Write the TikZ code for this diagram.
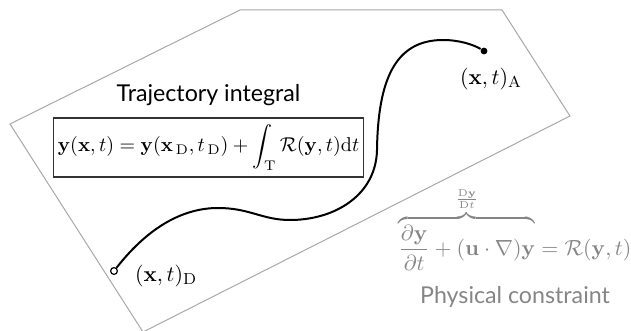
\documentclass[tikz,border=0pt]{standalone}
\usepackage{amsmath}
\usepackage{amssymb}
\usepackage[no-math]{fontspec}
\newfontfamily\labelfont{Lato}
\usepackage{tikz}
\usetikzlibrary{positioning}
\definecolor{planeGrey}{HTML}{A8A8A8}
\definecolor{lawGrey}{HTML}{858585}

\begin{document}
\begin{tikzpicture}[
  x=0.5pt, y=-0.5pt, node distance=3pt,
  plane/.style={draw=planeGrey, line width=0.5pt},
  eqbox/.style={draw=black!80, line width=0.6pt, inner sep=2pt,
                minimum width=149.5pt, minimum height=29.5pt},
  caption/.style={font=\labelfont\fontsize{11.6}{13}\selectfont},
  traj/.style={line width=1pt, black},
  endpt/.style={circle, inner sep=0pt, minimum size=3.4pt, line width=0.6pt},
  mathlbl/.style={font=\fontsize{11}{13}\selectfont},
]
\useasboundingbox (0,0) rectangle (631,331);
% plane of the domain
\draw[plane] (10,124) -- (240,10) -- (502,10) -- (570,116) -- (143,332) -- cycle;

% trajectory integral
\node[eqbox] (integral) at (208.5,147.5)
  {$\displaystyle \mathbf{y}(\mathbf{x},t)=\mathbf{y}(\mathbf{x}_{\,\mathrm{D}},t_{\,\mathrm{D}})+\int_{\mathrm{T}}\mathcal{R}(\mathbf{y},t)\mathrm{d}t$};
\node[caption, above=2.5pt of integral] (title) {Trajectory integral};

% end points and path
\node[endpt, draw, fill=white] (start) at (114,271) {};
\node[endpt, fill=black] (finish) at (484,51) {};
\draw[traj] (start) .. controls (150,225) and (185,208) .. (218,208)
  .. controls (250,208) and (262,220) .. (290,220)
  .. controls (335,220) and (376,195) .. (377,150)
  .. controls (378,80) and (395,40) .. (443,40)
  .. controls (460,40) and (474,45) .. (finish);
\node[mathlbl, right=5pt of start, yshift=-2.5pt] (startlbl) {$(\mathbf{x},t)_{\mathrm{D}}$};
\node[mathlbl, below=3pt of finish, xshift=3.5pt] (finishlbl) {$(\mathbf{x},t)_{\mathrm{A}}$};

% physical constraint
\node[lawGrey, font=\fontsize{10.5}{12}\selectfont] (law) at (515,229)
  {$\displaystyle \overbrace{\frac{\partial\mathbf{y}}{\partial t}+(\mathbf{u}\cdot\nabla)\mathbf{y}}^{\frac{\mathrm{D}\mathbf{y}}{\mathrm{D}t}\rule[-2.5pt]{0pt}{0pt}}=\mathcal{R}(\mathbf{y},t)$};
\node[caption, lawGrey, below=1pt of law] (lawname) {Physical constraint};
\end{tikzpicture}
\end{document}
